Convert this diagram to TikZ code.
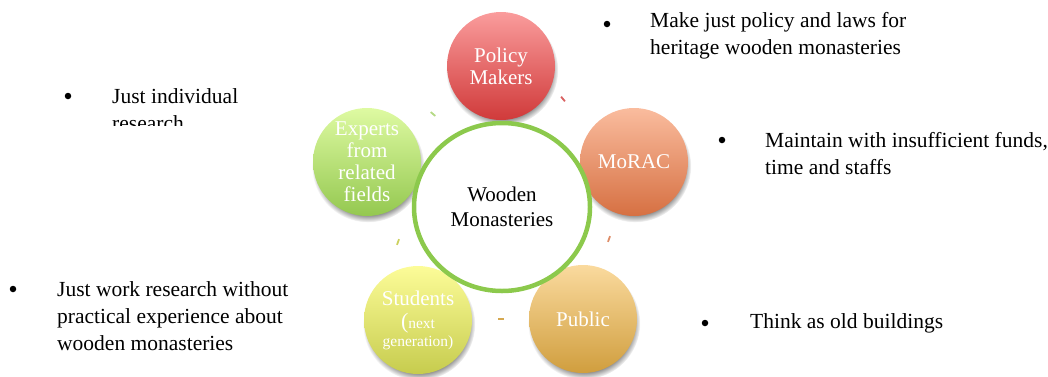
\documentclass[tikz,border=0pt]{standalone}
\usepackage{fontspec}
\setmainfont{Liberation Serif}
\usepackage{xcolor}
\usepackage{tikz}
\usetikzlibrary{shapes.geometric}
\usetikzlibrary{shadows}

\definecolor{ringgreen}{RGB}{140,201,76}
\definecolor{polytop}{RGB}{250,156,156}
\definecolor{polybot}{RGB}{208,58,58}
\definecolor{moractop}{RGB}{250,188,158}
\definecolor{moracbot}{RGB}{214,112,66}
\definecolor{pubtop}{RGB}{250,218,158}
\definecolor{pubbot}{RGB}{208,158,62}
\definecolor{studtop}{RGB}{252,252,152}
\definecolor{studbot}{RGB}{198,204,78}
\definecolor{exptop}{RGB}{222,250,162}
\definecolor{expbot}{RGB}{148,200,80}

\newcommand{\sm}{\fontsize{15.5}{17}\selectfont}

\tikzset{
    actor/.style={circle, minimum size=108pt, inner sep=0pt, text=white,
        align=center, font=\fontsize{21}{22}\selectfont,
        circular drop shadow={shadow xshift=1pt, shadow yshift=-4pt,
            shadow scale=1.04}},
    hub/.style={ellipse, minimum width=176pt, minimum height=168pt,
        draw=ringgreen, line width=4.5pt, fill=white, align=center,
        font=\fontsize{21}{25}\selectfont},
    note/.style={anchor=west, inner sep=0pt, align=left,
        font=\fontsize{21.5}{27}\selectfont},
    dot/.style={circle, fill=black, inner sep=0pt, minimum size=6.5pt},
    tick/.style={rectangle, inner sep=0pt, minimum width=6pt,
        minimum height=1.8pt}
}

\begin{document}
\begin{tikzpicture}[x=1pt, y=-1pt]
            \useasboundingbox (0, 0) rectangle (1048, 376);

            % the five groups round the hub
            \node[actor, top color=polytop, bottom color=polybot] (pm)
                at (501, 66) {Policy\\Makers};
            \node[actor, top color=moractop, bottom color=moracbot] (mo)
                at (634, 162) {MoRAC};
            \node[actor, top color=pubtop, bottom color=pubbot] (pb)
                at (583, 319) {Public};
            \node[actor, top color=studtop, bottom color=studbot] (st)
                at (418, 320) {Students\\[1pt]{\fontsize{22}{22}\selectfont(}{\sm next}\\[-4pt]{\sm generation)}};
            \node[actor, top color=exptop, bottom color=expbot] (ex)
                at (367, 162) {Experts\\from\\related\\fields};

            % short marks left between the groups
            \node[tick, fill=polybot!80, rotate=-50] (t1) at (563, 99) {};
            \node[tick, fill=moracbot!80, rotate=70] (t2) at (609, 239) {};
            \node[tick, fill=pubbot!90] (t3) at (501, 319) {};
            \node[tick, fill=studbot!90, rotate=70] (t4) at (398, 242) {};
            \node[tick, fill=expbot!70, rotate=-40] (t5) at (433, 114) {};

            \node[hub] (wm) at (502, 207) {Wooden\\Monasteries};

            % what each group does
            \node[dot] (pmb) at (607, 24) {};
            \node[note] (pmn) at (650, 36)
                {Make just policy and laws for\\heritage wooden monasteries};
            \node[dot] (mob) at (722, 140) {};
            \node[note] (mon) at (765, 154)
                {Maintain with insufficient funds,\\time and staffs};
            \node[dot] (pbb) at (705, 323) {};
            \node[note] (pbn) at (750, 323) {Think as old buildings};
            \node[dot] (stb) at (13, 289) {};
            \node[note] (stn) at (57, 316)
                {Just work research without\\practical experience about\\wooden monasteries};
            \node[dot] (exb) at (68, 96) {};
            \begin{scope}
                \clip (0, 0) rectangle (300, 125);
                \node[note] (exn) at (112, 110) {Just individual\\research};
            \end{scope}
        \end{tikzpicture}
\end{document}
